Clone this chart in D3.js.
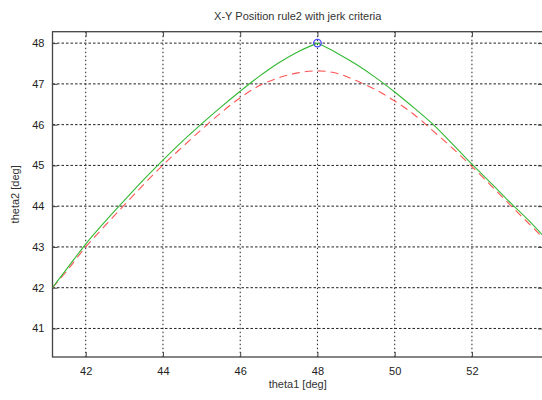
<!DOCTYPE html>
<html>
<head>
<meta charset="utf-8">
<script src="https://cdn.jsdelivr.net/npm/d3@7"></script>
<style>
  html, body { margin: 0; padding: 0; background: #fff; }
  svg { display: block; font-family: "Liberation Sans", Arial, sans-serif; }
</style>
</head>
<body>
<svg id="chart" width="542" height="400"></svg>
<script>
// Planned trajectory through the waypoint (theta1, theta2), in degrees
const planTheta1 = [41.14, 41.5, 42.0, 42.5, 43.0, 43.5, 44.0, 44.5, 45.0, 45.5, 46.0, 46.5, 47.0, 47.5, 48.0,
                    48.5, 49.0, 49.5, 50.0, 50.5, 51.0, 51.5, 52.0, 52.5, 53.0, 53.5, 53.84];
const planTheta2 = [42.00, 42.45, 43.07, 43.62, 44.14, 44.65, 45.13, 45.59, 46.02, 46.43, 46.82, 47.19, 47.52, 47.79, 48.00,
                    47.76, 47.48, 47.16, 46.80, 46.41, 46.00, 45.52, 45.03, 44.56, 44.08, 43.62, 43.28];

// Trajectory obtained with the jerk criterion
const jerkTheta1 = [41.14, 41.5, 42.0, 42.5, 43.0, 43.5, 44.0, 44.5, 45.0, 45.5, 46.0, 46.5, 47.0, 47.5, 48.0,
                    48.5, 49.0, 49.5, 50.0, 50.5, 51.0, 51.5, 52.0, 52.5, 53.0, 53.5, 53.84];
const jerkTheta2 = [42.00, 42.40, 43.00, 43.52, 44.03, 44.53, 45.01, 45.45, 45.88, 46.29, 46.66, 46.96, 47.15, 47.27, 47.32,
                    47.26, 47.08, 46.86, 46.58, 46.25, 45.84, 45.42, 44.97, 44.50, 44.02, 43.55, 43.22];

// Via point
const viaTheta1 = [48];
const viaTheta2 = [48];

const xTicks = [42, 44, 46, 48, 50, 52];
const yTicks = [41, 42, 43, 44, 45, 46, 47, 48];

const titleText = "X-Y Position rule2 with jerk criteria";
const xLabel = "theta1 [deg]";
const yLabel = "theta2 [deg]";

const svg = d3.select("#chart");
const plotL = 52.5, plotR = 543, plotT = 31.7, plotB = 357;

const x = d3.scaleLinear().domain([41.14, 53.84]).range([plotL, plotR]);
const y = d3.scaleLinear().domain([40.3, 48.28]).range([plotB, plotT]);

// dotted grid
const grid = svg.append("g");
grid.selectAll("line.gx").data(xTicks).join("line")
  .attr("x1", d => x(d)).attr("x2", d => x(d))
  .attr("y1", plotT).attr("y2", plotB)
  .attr("stroke", "#222").attr("stroke-width", 1)
  .attr("stroke-dasharray", "1.5,2.5");
grid.selectAll("line.gy").data(yTicks).join("line")
  .attr("x1", plotL).attr("x2", plotR)
  .attr("y1", d => y(d)).attr("y2", d => y(d))
  .attr("stroke", "#222").attr("stroke-width", 1)
  .attr("stroke-dasharray", "2.5,2");

// axes with inward ticks
const axisColor = "#444";
const xAxis = d3.axisBottom(x).tickValues(xTicks).tickFormat(d3.format("d")).tickSizeInner(-5).tickSizeOuter(0).tickPadding(10);
const yAxis = d3.axisLeft(y).tickValues(yTicks).tickFormat(d3.format("d")).tickSizeInner(-5).tickSizeOuter(0).tickPadding(8);

const gx = svg.append("g").attr("transform", `translate(0,${plotB})`).call(xAxis);
const gy = svg.append("g").attr("transform", `translate(${plotL},0)`).call(yAxis);
[gx, gy].forEach(g => {
  g.select(".domain").remove();
  g.selectAll(".tick line").attr("stroke", axisColor);
  g.selectAll(".tick text").attr("fill", "#222").style("font-size", "11px");
});

// top and right ticks
const gTop = svg.append("g").attr("transform", `translate(0,${plotT})`)
  .call(d3.axisTop(x).tickValues(xTicks).tickFormat("").tickSizeInner(-5).tickSizeOuter(0));
const gRight = svg.append("g").attr("transform", `translate(${plotR},0)`)
  .call(d3.axisRight(y).tickValues(yTicks).tickFormat("").tickSizeInner(-5).tickSizeOuter(0));
[gTop, gRight].forEach(g => {
  g.select(".domain").remove();
  g.selectAll(".tick line").attr("stroke", axisColor);
});

// axes box
svg.append("rect")
  .attr("x", plotL).attr("y", plotT)
  .attr("width", plotR - plotL).attr("height", plotB - plotT)
  .attr("fill", "none").attr("stroke", axisColor).attr("stroke-width", 1.3);

svg.append("clipPath").attr("id", "plotClip")
  .append("rect").attr("x", plotL).attr("y", plotT).attr("width", plotR - plotL).attr("height", plotB - plotT);

const smooth = d3.line().x(d => x(d[0])).y(d => y(d[1])).curve(d3.curveMonotoneX);
const plan = d3.zip(planTheta1, planTheta2);
const jerk = d3.zip(jerkTheta1, jerkTheta2);

// the planned path has a corner at the via point: draw each side separately
const viaIdx = planTheta1.indexOf(viaTheta1[0]);
const planParts = [plan.slice(0, viaIdx + 1), plan.slice(viaIdx)];

const curves = svg.append("g").attr("clip-path", "url(#plotClip)");
curves.append("path").datum(jerk)
  .attr("d", smooth).attr("fill", "none")
  .attr("stroke", "#ff5555").attr("stroke-width", 1.1)
  .attr("stroke-dasharray", "8,5");
curves.selectAll("path.plan").data(planParts).join("path")
  .attr("class", "plan")
  .attr("d", smooth).attr("fill", "none")
  .attr("stroke", "#33b833").attr("stroke-width", 1.1);

svg.append("g").selectAll("circle").data(d3.zip(viaTheta1, viaTheta2)).join("circle")
  .attr("cx", d => x(d[0])).attr("cy", d => y(d[1])).attr("r", 3.8)
  .attr("fill", "none").attr("stroke", "#4a4aff").attr("stroke-width", 1.3);

// labels
svg.append("text").attr("x", (plotL + plotR) / 2).attr("y", 20)
  .attr("text-anchor", "middle").attr("fill", "#333").style("font-size", "11px")
  .text(titleText);
svg.append("text").attr("x", (plotL + plotR) / 2).attr("y", 388)
  .attr("text-anchor", "middle").attr("fill", "#333").style("font-size", "11px")
  .text(xLabel);
svg.append("text").attr("transform", `translate(19,${(plotT + plotB) / 2}) rotate(-90)`)
  .attr("text-anchor", "middle").attr("fill", "#333").style("font-size", "11px")
  .text(yLabel);
</script>
</body>
</html>
